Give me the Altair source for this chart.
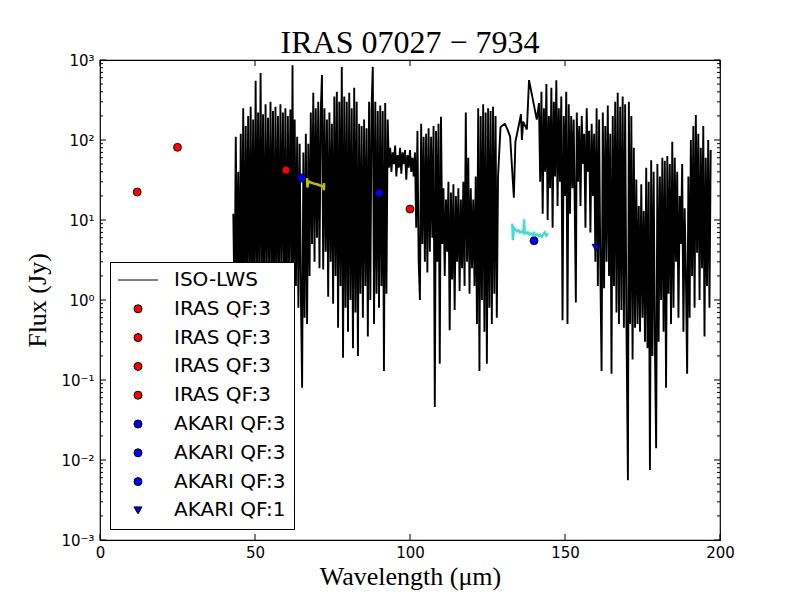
import altair as alt
import pandas as pd

# ---------------- data ----------------
# ISO-LWS spectrum (wavelength in micron, flux in Jy), read segment by segment
lws_a = [(43.0, 12), (43.4, 0.8), (43.8, 110), (44.2, 1.5), (44.6, 40), (45.0, 0.6), (45.4, 120),
         (45.8, 1.2), (46.2, 250), (46.6, 0.5), (47.0, 150), (47.4, 2.0), (47.8, 200), (48.2, 0.7),
         (48.6, 260), (49.0, 1.4), (49.4, 180), (49.8, 0.5), (50.2, 550), (50.6, 1.8), (51.0, 220),
         (51.4, 0.9), (51.8, 690), (52.2, 1.6), (52.6, 210), (53.0, 0.6), (53.4, 280), (53.8, 2.2),
         (54.2, 190), (54.6, 1.0), (55.0, 300), (55.4, 1.7), (55.8, 230), (56.2, 0.5), (56.6, 260),
         (57.0, 1.9), (57.4, 200), (57.8, 0.8), (58.2, 280), (58.6, 2.4), (59.0, 220), (59.4, 1.1),
         (59.8, 250), (60.2, 0.6), (60.6, 200), (61.0, 2.0), (61.4, 240), (61.8, 1.3), (62.1, 860),
         (62.4, 0.9), (62.8, 180), (63.2, 1.5), (63.6, 110), (64.0, 0.8), (64.4, 90), (64.8, 1.2),
         (65.2, 0.08), (65.6, 70), (66.0, 0.6), (66.4, 120), (66.8, 0.5), (67.2, 90), (67.6, 2.0)]
lws_b = [(68.0, 220), (68.4, 5.0), (68.8, 390), (69.2, 3.0), (69.6, 250), (70.0, 6.0), (70.4, 300),
         (70.8, 2.5), (71.2, 220), (71.6, 650), (72.0, 2.4), (72.4, 250), (72.8, 4.0), (73.2, 180),
         (73.6, 1.1), (74.0, 220), (74.4, 3.0), (74.8, 160), (75.2, 0.9), (75.6, 350), (76.0, 2.0),
         (76.4, 400), (76.8, 0.45), (77.2, 300), (77.6, 1.5), (78.0, 820), (78.4, 0.19), (78.8, 350),
         (79.2, 0.8), (79.6, 300), (80.0, 0.4), (80.4, 390), (80.8, 1.0), (81.2, 250), (81.6, 0.25),
         (82.0, 450), (82.4, 0.7), (82.8, 300), (83.2, 0.2), (83.6, 160), (84.0, 1.2), (84.4, 150),
         (84.8, 0.6), (85.2, 180), (85.6, 1.5), (86.0, 140), (86.4, 0.35), (86.8, 300), (87.2, 1.0),
         (87.6, 250), (88.0, 820), (88.4, 0.5), (88.8, 300), (89.2, 1.2), (89.6, 230), (90.0, 0.8),
         (90.4, 270), (90.8, 1.5), (91.2, 230), (91.6, 0.13), (92.0, 290), (92.4, 1.2), (92.8, 180)]
lws_c = [(93.2, 45), (93.6, 80), (94.0, 40), (94.4, 70), (94.8, 50), (95.2, 85), (95.6, 35),
         (96.0, 65), (96.4, 45), (96.8, 80), (97.2, 38), (97.6, 70), (98.0, 50), (98.4, 75),
         (98.8, 32), (99.2, 65), (99.6, 45), (100.0, 75), (100.4, 40), (100.8, 60), (101.2, 35),
         (101.6, 70)]
lws_d = [(102.0, 8), (102.4, 130), (102.8, 3), (103.2, 1.0), (103.6, 160), (104.0, 5), (104.4, 110),
         (104.8, 3), (105.2, 120), (105.6, 2.2), (106.0, 140), (106.4, 4), (106.8, 110), (107.2, 6),
         (107.6, 150), (108.0, 0.046), (108.4, 130), (108.8, 3), (109.2, 160), (109.6, 0.16),
         (110.0, 195), (110.4, 5), (110.8, 25), (111.2, 2), (111.6, 18), (112.0, 4), (112.4, 30),
         (112.8, 0.42), (113.2, 22), (113.6, 1.8), (114.0, 28), (114.4, 0.75), (114.8, 20), (115.2, 3),
         (115.6, 25), (116.0, 1.3), (116.4, 18), (116.8, 2.5), (117.2, 30), (117.6, 1.5), (118.0, 220),
         (118.4, 3), (118.8, 60), (119.2, 1.2), (119.6, 25), (120.0, 2.5), (120.4, 18), (120.8, 1.5),
         (121.2, 35), (121.6, 0.5)]
lws_e = [(122.0, 250), (122.4, 0.13), (122.8, 200), (123.2, 1.0), (123.6, 280), (124.0, 0.4),
         (124.4, 220), (124.8, 0.16), (125.2, 250), (125.6, 0.8), (126.0, 230), (126.4, 0.5),
         (126.8, 260), (127.2, 1.2), (127.6, 200), (128.0, 0.6), (128.4, 35), (129.2, 145),
         (130.6, 160), (131.3, 140), (132.3, 110), (133.5, 19), (134.0, 95), (135.2, 160),
         (135.8, 210), (136.1, 100), (136.5, 170), (137.7, 135), (138.4, 560), (140.9, 180),
         (141.6, 290)]
lws_f = [(142.0, 30), (142.4, 400), (142.8, 12), (143.2, 250), (143.6, 40), (144.0, 500), (144.4, 10),
         (144.8, 200), (145.2, 25), (145.6, 450), (146.0, 8), (146.4, 300), (146.8, 35), (147.2, 560),
         (147.6, 15), (148.0, 250), (148.4, 30), (148.8, 350), (149.2, 0.56), (149.6, 200), (150.0, 20),
         (150.4, 400), (150.8, 0.5), (151.2, 280), (151.6, 12), (152.0, 200), (152.4, 25), (152.8, 180),
         (153.2, 10), (153.5, 0.93), (153.8, 220), (154.2, 30), (154.6, 150), (155.0, 15), (155.4, 200),
         (155.8, 50), (156.2, 120), (156.6, 8), (157.0, 250), (157.4, 40), (157.8, 130), (158.2, 7),
         (158.6, 160), (159.0, 20), (159.4, 120)]
lws_g = [(159.8, 3), (160.2, 250), (160.6, 1.5), (161.0, 180), (161.4, 2.5), (161.8, 0.13), (162.2, 220),
         (162.6, 1.4), (163.0, 150), (163.4, 3), (163.8, 270), (164.2, 2), (164.6, 120), (165.0, 0.12),
         (165.4, 200), (165.8, 1.5), (166.2, 300), (166.6, 0.7), (167.0, 390), (167.4, 0.5), (167.8, 260),
         (168.2, 0.75), (168.6, 350), (169.0, 0.45), (169.4, 280), (169.8, 0.6), (170.3, 0.0056),
         (170.6, 300), (171.0, 0.5), (171.4, 200), (171.8, 0.18), (172.2, 80), (172.6, 0.45)]
lws_h = [(173.0, 32), (173.4, 0.5), (173.8, 15), (174.2, 0.4), (174.6, 28), (175.0, 0.6), (175.4, 13),
         (175.8, 0.3), (176.2, 45), (176.6, 0.25), (177.0, 30), (177.4, 0.0075), (177.8, 56), (178.2, 0.2),
         (178.6, 40), (179.0, 0.28), (179.4, 0.014), (179.8, 50), (180.2, 0.3), (180.6, 35), (181.0, 1.0),
         (181.4, 60), (181.8, 0.4), (182.2, 55), (182.6, 0.08), (183.0, 63), (183.4, 1.2), (183.8, 50),
         (184.2, 0.5), (184.6, 95), (185.0, 0.8), (185.4, 60), (185.8, 3), (186.2, 40), (186.6, 0.6),
         (187.0, 20), (187.4, 5), (187.8, 50), (188.2, 0.4), (188.6, 14), (189.0, 2), (189.4, 0.12),
         (189.8, 35), (190.2, 0.6), (190.6, 100), (191.0, 2), (191.4, 150), (191.8, 0.8), (192.2, 205),
         (192.6, 3.9), (193.0, 120), (193.4, 1.0), (193.8, 80), (194.2, 2.5), (194.6, 150), (195.0, 0.35),
         (195.4, 60), (195.8, 1.5), (196.2, 100), (196.6, 0.8), (197.0, 75)]

# short yellow and turquoise spectral pieces
yellow_wave = [66.8, 66.9, 67.2, 68.0, 69.0, 70.0, 71.0, 72.0, 72.2, 72.3]
yellow_flux = [33.5, 25.5, 30.5, 29.5, 28.5, 28.0, 27.0, 26.5, 23.5, 29.0]
cyan_wave = [133.0, 133.2, 133.5, 134.0, 134.5, 135.0, 135.5, 136.0, 136.6, 136.8, 137.0, 137.5,
             138.0, 138.5, 139.0, 139.5, 140.0, 140.5, 141.0, 141.5, 142.0, 142.5, 143.0, 143.5,
             144.0, 144.5]
cyan_flux = [9.0, 5.6, 8.0, 7.6, 7.2, 7.4, 7.0, 7.2, 6.9, 10.2, 7.0, 6.8, 7.0, 6.6, 6.8, 6.5,
             6.9, 6.4, 6.6, 6.3, 6.5, 6.2, 6.6, 7.0, 6.4, 6.8]

# photometry
phot_wave = [12, 25, 60, 100, 65, 90, 140, 160]
phot_flux = [22.4, 81.0, 42.0, 13.7, 33.5, 21.7, 5.5, 4.5]
phot_key = ["1", "2", "3", "4", "5", "6", "7", "8"]

# legend entries
legend_keys = ["0", "1", "2", "3", "4", "5", "6", "7", "8"]
legend_labels = ["ISO-LWS", "IRAS QF:3", "IRAS QF:3", "IRAS QF:3", "IRAS QF:3",
                 "AKARI QF:3", "AKARI QF:3", "AKARI QF:3", "AKARI QF:1"]
legend_fill = ["black", "red", "red", "red", "red", "blue", "blue", "blue", "blue"]
legend_shape = ["M-5,0L5,0", "circle", "circle", "circle", "circle",
                "circle", "circle", "circle", "triangle-down"]

# axis ticks
y_major = [0.001, 0.01, 0.1, 1, 10, 100, 1000]
y_minor = [m * 10.0 ** k for k in range(-3, 3) for m in range(2, 10)]
x_major = [0, 50, 100, 150, 200]

# ---------------- chart ----------------
W, H = 620, 480
lws_pts = lws_a + lws_b + lws_c + lws_d + lws_e + lws_f + lws_g + lws_h
lws_df = pd.DataFrame(lws_pts, columns=["wave", "flux"])
yel_df = pd.DataFrame({"wave": yellow_wave, "flux": yellow_flux})
cyan_df = pd.DataFrame({"wave": cyan_wave, "flux": cyan_flux})
phot_df = pd.DataFrame({"wave": phot_wave, "flux": phot_flux, "key": phot_key})

xscale = alt.Scale(domain=[0, 200], nice=False, zero=False)
yscale = alt.Scale(type="log", domain=[0.001, 1000], nice=False)

xaxis = alt.Axis(values=x_major, ticks=False, domain=False, grid=False, labelFont="DejaVu Sans",
                 labelFontSize=15, labelColor="black", labelPadding=5, labelFlush=False,
                 title="Wavelength (\u03bcm)", titleFont="Liberation Serif", titleFontSize=26,
                 titleFontWeight="normal", titleColor="black", titlePadding=3)
yaxis = alt.Axis(values=y_major, ticks=False, domain=False, grid=False, labelFont="DejaVu Sans",
                 labelFontSize=15, labelColor="black", labelPadding=6, labelFlush=False,
                 labelExpr="'10' + ['\u207b\u00b3','\u207b\u00b2','\u207b\u00b9','\u2070','\u00b9','\u00b2','\u00b3'][round(log(datum.value)/LN10) + 3]",
                 title="Flux (Jy)", titleFont="Liberation Serif", titleFontSize=26,
                 titleFontWeight="normal", titleColor="black", titlePadding=10)

X = alt.X("wave:Q", scale=xscale, axis=xaxis)
Y = alt.Y("flux:Q", scale=yscale, axis=yaxis)

lws = alt.Chart(lws_df).mark_line(color="black", strokeWidth=1.9, strokeJoin="bevel", clip=True).encode(
    x=X, y=Y, order="wave:Q")
yel = alt.Chart(yel_df).mark_line(color="#bfbf00", strokeWidth=2.5, clip=True).encode(
    x=X, y=Y, order=alt.Order("wave:Q"))
cyan = alt.Chart(cyan_df).mark_line(color="#40e0d0", strokeWidth=2.5, clip=True).encode(
    x=X, y=Y, order=alt.Order("wave:Q"))

label_js = "[" + ",".join("'" + s + "'" for s in legend_labels) + "][toNumber(datum.value)]"
leg = alt.Legend(title=None, orient="none", legendX=10, legendY=202, labelExpr=label_js,
                 labelFont="DejaVu Sans", labelFontSize=20, labelColor="black",
                 symbolSize=64, symbolStrokeWidth=1, padding=8, rowPadding=8.8,
                 strokeColor="black", fillColor="white", cornerRadius=0,
                 labelOffset=26, symbolOffset=10)
pts = alt.Chart(phot_df).mark_point(filled=True, size=64, opacity=1, strokeWidth=0.8).encode(
    x=X, y=Y,
    fill=alt.Fill("key:N", scale=alt.Scale(domain=legend_keys, range=legend_fill), legend=leg),
    shape=alt.Shape("key:N", scale=alt.Scale(domain=legend_keys, range=legend_shape), legend=leg),
    stroke=alt.Stroke("key:N", scale=alt.Scale(domain=legend_keys, range=["black"] * 9), legend=leg),
)

ymaj_df = pd.DataFrame({"flux": y_major})
ymin_df = pd.DataFrame({"flux": y_minor})
xmaj_df = pd.DataFrame({"wave": x_major})
tick_layers = [
    alt.Chart(ymaj_df).mark_rule(color="black", strokeWidth=1).encode(y=Y, x=alt.value(0), x2=alt.value(6)),
    alt.Chart(ymaj_df).mark_rule(color="black", strokeWidth=1).encode(y=Y, x=alt.value(W - 6), x2=alt.value(W)),
    alt.Chart(ymin_df).mark_rule(color="black", strokeWidth=1).encode(y=Y, x=alt.value(0), x2=alt.value(3)),
    alt.Chart(ymin_df).mark_rule(color="black", strokeWidth=1).encode(y=Y, x=alt.value(W - 3), x2=alt.value(W)),
    alt.Chart(xmaj_df).mark_rule(color="black", strokeWidth=1).encode(x=X, y=alt.value(H - 6), y2=alt.value(H)),
    alt.Chart(xmaj_df).mark_rule(color="black", strokeWidth=1).encode(x=X, y=alt.value(0), y2=alt.value(6)),
]

chart = alt.layer(lws, yel, cyan, pts, *tick_layers).properties(
    width=W, height=H,
    title=alt.TitleParams("IRAS 07027 \u2212 7934", font="Liberation Serif", fontSize=32,
                          fontWeight="normal", color="black", anchor="middle", frame="group",
                          baseline="alphabetic", offset=6, dy=38),
    autosize=alt.AutoSizeParams(type="none"),
    padding={"left": 92, "top": 52, "right": 72, "bottom": 52},
    background="white",
).configure_view(stroke="black", strokeWidth=1.2)

chart.save("out.html", embed_options={"renderer": "svg", "actions": False})
